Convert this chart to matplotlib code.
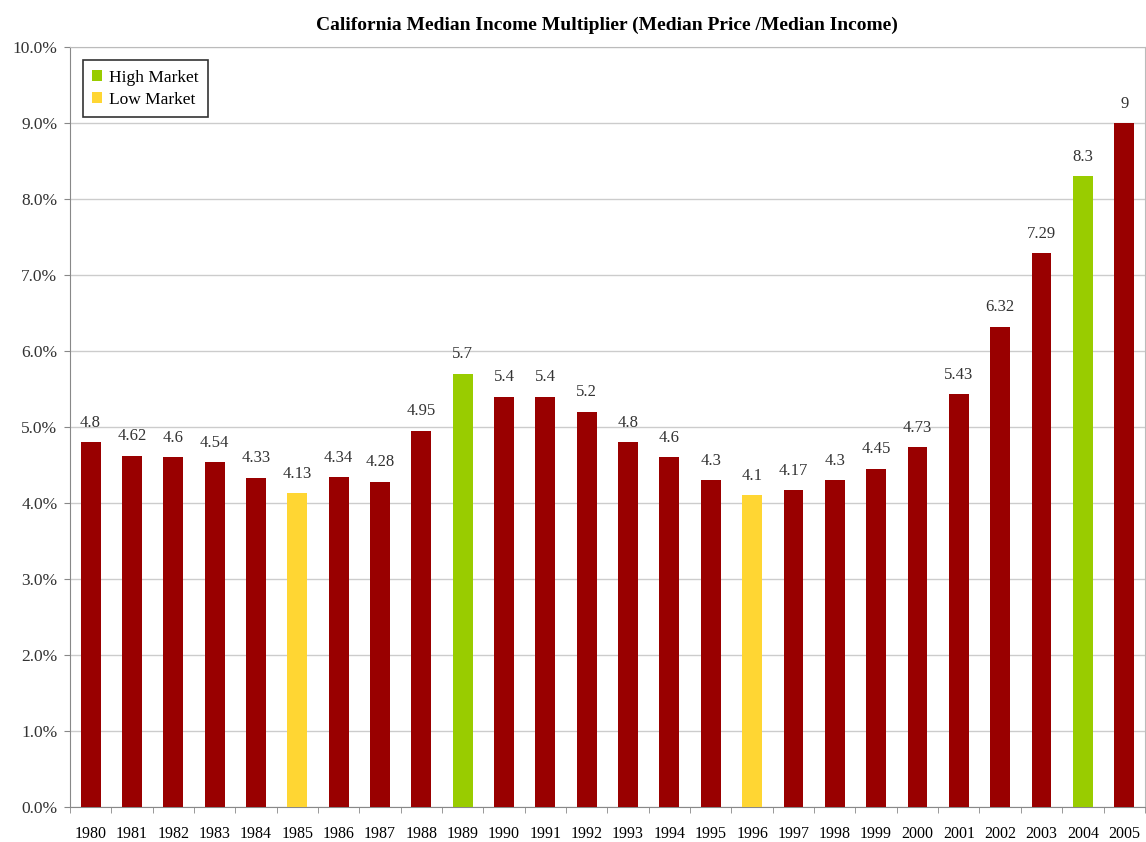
import matplotlib
matplotlib.use('Agg')
import matplotlib.pyplot as plt
import numpy as np
from matplotlib.patches import Patch
from matplotlib.ticker import FuncFormatter

# 데이터
years = list(range(1980, 2006))
values = [4.8, 4.62, 4.6, 4.54, 4.33, 4.13, 4.34, 4.28, 4.95, 5.7,
          5.4, 5.4, 5.2, 4.8, 4.6, 4.3, 4.1, 4.17, 4.3, 4.45,
          4.73, 5.43, 6.32, 7.29, 8.3, 9]
labels = ['4.8', '4.62', '4.6', '4.54', '4.33', '4.13', '4.34', '4.28', '4.95', '5.7',
          '5.4', '5.4', '5.2', '4.8', '4.6', '4.3', '4.1', '4.17', '4.3', '4.45',
          '4.73', '5.43', '6.32', '7.29', '8.3', '9']
high_years = [1989, 2004]
low_years = [1985, 1996]

RED = '#990000'
GREEN = '#99cc00'
YELLOW = '#ffd633'

plt.rcParams['font.family'] = ['Liberation Serif', 'DejaVu Serif']

fig = plt.figure(figsize=(11.46, 8.42), dpi=100)
ax = fig.add_axes([0.061, 0.0416, 0.938, 0.9026])

colors = []
for y in years:
    if y in high_years:
        colors.append(GREEN)
    elif y in low_years:
        colors.append(YELLOW)
    else:
        colors.append(RED)

x = np.arange(len(years))
ax.bar(x, values, width=0.48, color=colors, zorder=3)
for xi, v, t in zip(x, values, labels):
    ax.text(xi, v + 0.15, t, ha='center', va='bottom', fontsize=12, color='#333333')

ax.set_xlim(-0.5, len(years) - 0.5)
ax.set_ylim(0, 10)
ax.set_yticks(np.arange(0, 11, 1))
ax.yaxis.set_major_formatter(FuncFormatter(lambda v, p: f'{v:.1f}%'))
ax.set_xticks(x)
ax.set_xticklabels([str(y) for y in years], fontsize=11.5)
ax.set_xticks(np.arange(-0.5, len(years), 1), minor=True)
ax.tick_params(axis='x', which='major', length=0, pad=14)
ax.tick_params(axis='x', which='minor', length=4, color='#888888')
ax.tick_params(axis='y', length=4, color='#888888', labelsize=12.5, labelcolor='#333333', pad=5)
ax.grid(axis='y', color='#cccccc', linewidth=1, zorder=0)

for s in ['left', 'bottom']:
    ax.spines[s].set_color('#888888')
for s in ['top', 'right']:
    ax.spines[s].set_color('#bbbbbb')

ax.set_title('California Median Income Multiplier (Median Price /Median Income)',
             fontsize=14, fontweight='bold', pad=12)

handles = [Patch(facecolor=GREEN, label='High Market'),
           Patch(facecolor=YELLOW, label='Low Market')]
leg = ax.legend(handles=handles, loc='upper left', bbox_to_anchor=(0.0, 1.0),
                fontsize=12.5, frameon=True, fancybox=False, handlelength=0.55,
                handleheight=0.55, handletextpad=0.4, borderpad=0.55,
                labelspacing=0.35, borderaxespad=0.75)
leg.get_frame().set_edgecolor('black')
leg.get_frame().set_linewidth(1.2)

fig.savefig('out.png', dpi=100)
